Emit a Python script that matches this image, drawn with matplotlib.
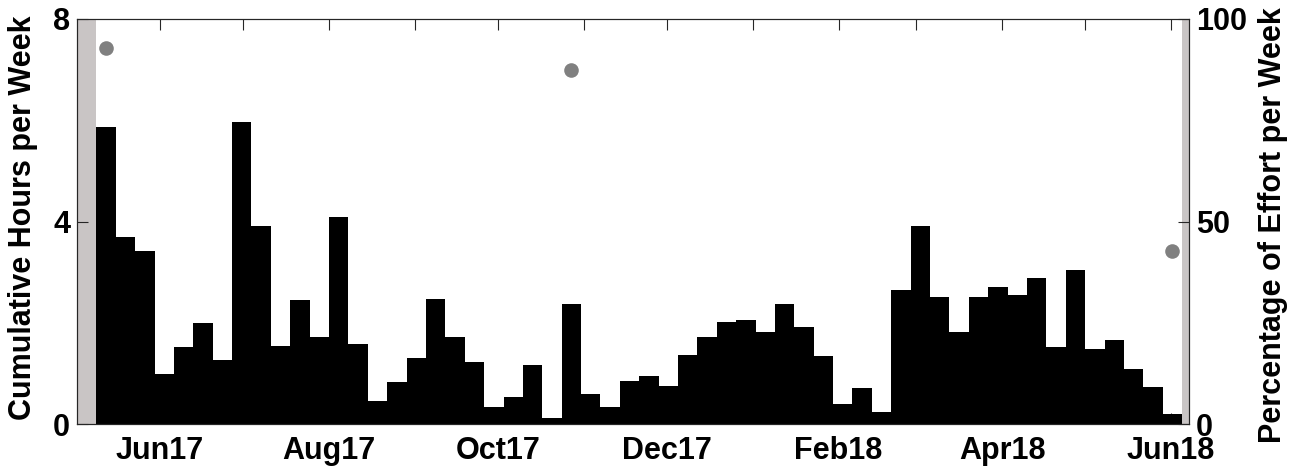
import matplotlib
matplotlib.use("Agg")
import matplotlib.pyplot as plt
import numpy as np
import pandas as pd

# ---- data ----
first_week_start = "2017-05-09"
hours_per_week = [
    5.86, 3.70, 3.41, 0.99, 1.53, 1.99, 1.26, 5.96, 3.92, 1.55,
    2.44, 1.72, 4.09, 1.59, 0.45, 0.82, 1.30, 2.46, 1.72, 1.23,
    0.33, 0.53, 1.16, 0.12, 2.38, 0.60, 0.33, 0.85, 0.95, 0.75,
    1.36, 1.72, 2.01, 2.05, 1.82, 2.38, 1.92, 1.35, 0.40, 0.72,
    0.23, 2.65, 3.92, 2.51, 1.82, 2.51, 2.70, 2.55, 2.88, 1.53,
    3.05, 1.49, 1.65, 1.08, 0.74, 0.20,
]
effort_week_index = [0, 24, 55]
effort_percent = [92.8, 87.5, 42.6]
x_start = "2017-05-02"
x_end = "2018-06-07 12:00"
month_ticks = pd.date_range("2017-06-01", "2018-06-01", freq="MS")
month_labels = [d.strftime("%b%y") if i % 2 == 0 else "" for i, d in enumerate(month_ticks)]

# ---- style ----
plt.rcParams['font.family'] = ['Liberation Sans', 'DejaVu Sans']
plt.rcParams['font.weight'] = 'bold'
SPINE = '#262626'
SHADE = '#c9c5c5'
DOT = '#808080'
TICK_FS = 22
LABEL_FS = 22

week_starts = pd.date_range(first_week_start, periods=len(hours_per_week), freq="7D")
week_centers = week_starts + pd.Timedelta(days=3.5)

fig = plt.figure(figsize=(12.96, 4.67), dpi=100)
ax = fig.add_axes([77/1296, 43/467, 1112/1296, 405/467])

ax.bar(week_starts, hours_per_week, width=7, align='edge', color='black',
       edgecolor='none', zorder=2)

xs = pd.Timestamp(x_start)
xe = pd.Timestamp(x_end)
ax.axvspan(xs, week_starts[0], color=SHADE, zorder=1, lw=0)
ax.axvspan(week_starts[-1] + pd.Timedelta(days=7), xe, color=SHADE, zorder=1, lw=0)

ax.set_xlim(xs, xe)
ax.set_ylim(0, 8)
ax.set_yticks([0, 4, 8])
ax.set_xticks(month_ticks)
ax.set_xticklabels(month_labels)
ax.tick_params(axis='both', direction='in', length=8, width=0.8, color=SPINE,
               labelsize=TICK_FS, top=True, bottom=True, pad=5)
ax.tick_params(axis='x', pad=8.5)
for s in ax.spines.values():
    s.set_color(SPINE)
    s.set_linewidth(0.8)
ax.set_ylabel("Cumulative Hours per Week", fontsize=LABEL_FS, fontweight='bold')
ax.yaxis.set_label_coords(-0.035, 0.51)

ax2 = ax.twinx()
ax2.set_ylim(0, 100)
ax2.set_yticks([0, 50, 100])
ax2.plot(week_centers[effort_week_index], effort_percent, 'o', color=DOT,
         markersize=10.5, markeredgewidth=0, zorder=3)
ax2.tick_params(axis='y', direction='in', length=8, width=0.8, color=SPINE,
                labelsize=TICK_FS, pad=5)
for s in ax2.spines.values():
    s.set_color(SPINE)
    s.set_linewidth(0.8)
ax2.set_ylabel("Percentage of Effort per Week", fontsize=LABEL_FS, fontweight='bold')
ax2.yaxis.set_label_coords(1.062, 0.49)

fig.savefig("out.png", dpi=100)
